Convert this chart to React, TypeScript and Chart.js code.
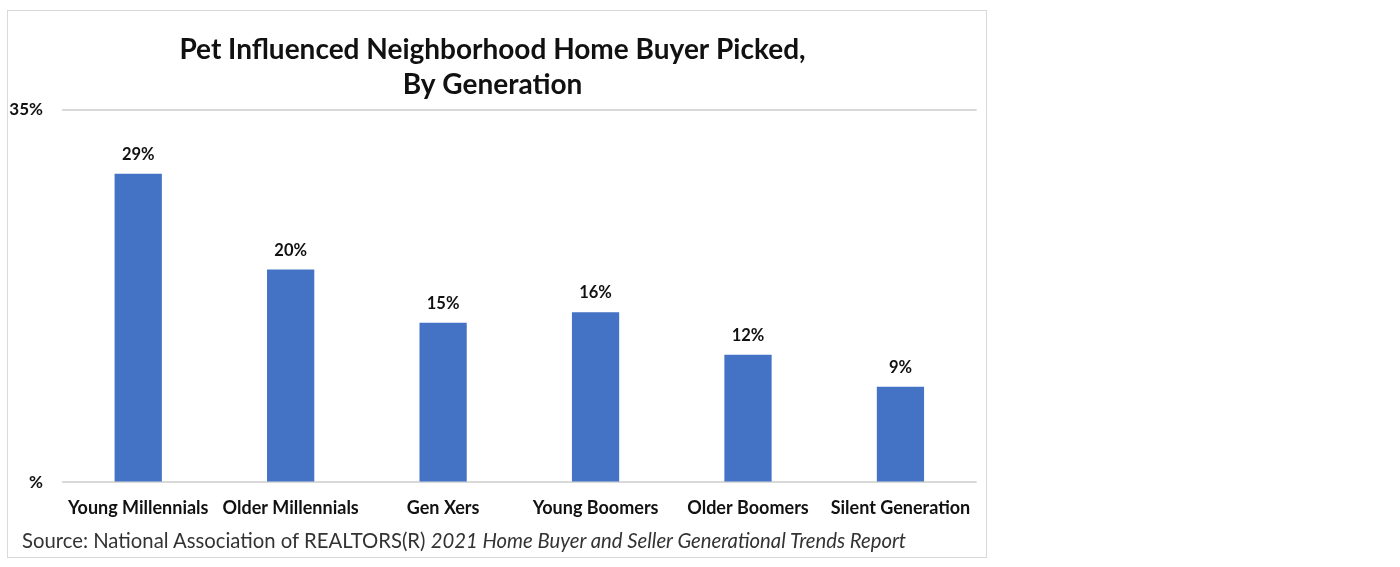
import React, { useEffect, useRef } from "react";
import { Chart, registerables } from "chart.js";

Chart.register(...registerables);

const categories = [
  "Young Millennials",
  "Older Millennials",
  "Gen Xers",
  "Young Boomers",
  "Older Boomers",
  "Silent Generation",
];
const values = [29, 20, 15, 16, 12, 9];
const yTickValues = [0, 35];
const yTickLabels = ["%", "35%"];
const titleLines = ["Pet Influenced Neighborhood Home Buyer Picked,", "By Generation"];
const sourcePlain = "Source: National Association of REALTORS(R) ";
const sourceItalic = "2021 Home Buyer and Seller Generational Trends Report";

const FONT = "Lato, 'Open Sans', 'DejaVu Sans', sans-serif";

const dataLabelPlugin = {
  id: "dataLabels",
  afterDatasetsDraw(chart: any) {
    const ctx = chart.ctx;
    const meta = chart.getDatasetMeta(0);
    ctx.save();
    ctx.font = `bold 16.5px ${FONT}`;
    ctx.fillStyle = "#111";
    ctx.textAlign = "center";
    ctx.textBaseline = "middle";
    meta.data.forEach((bar: any, i: number) => {
      ctx.fillText(values[i] + "%", bar.x, bar.y - 19);
    });
    ctx.restore();
  },
};

export default function App() {
  const ref = useRef<HTMLCanvasElement>(null);
  useEffect(() => {
    if (!ref.current) return;
    const chart = new Chart(ref.current, {
      type: "bar",
      data: {
        labels: categories,
        datasets: [
          {
            data: values,
            backgroundColor: "#4472C4",
            categoryPercentage: 1,
            barPercentage: 0.31,
          },
        ],
      },
      options: {
        animation: false,
        responsive: false,
        maintainAspectRatio: false,
        layout: { padding: { left: 0, right: 9, top: 3, bottom: 23 } },
        plugins: {
          legend: { display: false },
          tooltip: { enabled: false },
          title: {
            display: true,
            text: titleLines,
            color: "#111",
            font: { family: FONT, size: 28, weight: "bold", lineHeight: 1.25 },
            padding: { top: 18, bottom: 8 },
          },
        },
        scales: {
          x: {
            grid: { display: false, drawTicks: false },
            border: { display: false },
            ticks: {
              color: "#111",
              font: { family: FONT, size: 18, weight: "bold" },
              padding: 15,
              maxRotation: 0,
              autoSkip: false,
            },
          },
          y: {
            min: 0,
            max: 35,
            afterBuildTicks(scale: any) {
              scale.ticks = yTickValues.map((v) => ({ value: v }));
            },
            afterFit(scale: any) {
              scale.width = 54;
            },
            grid: { color: "#d9d9d9", lineWidth: 2, drawTicks: false },
            border: { display: false },
            ticks: {
              color: "#111",
              font: { family: FONT, size: 17, weight: "bold" },
              padding: 19,
              callback: (v: any) => yTickLabels[yTickValues.indexOf(Number(v))] ?? "",
            },
          },
        },
      },
      plugins: [dataLabelPlugin],
    });
    return () => chart.destroy();
  }, []);

  return (
    <div
      style={{
        position: "absolute",
        left: 7,
        top: 10,
        width: 980,
        height: 548,
        border: "1px solid #d9d9d9",
        boxSizing: "border-box",
        background: "#fff",
      }}
    >
      <canvas ref={ref} width={978} height={546} style={{ display: "block" }} />
      <div
        style={{
          position: "absolute",
          left: 14,
          top: 517,
          fontFamily: FONT,
          fontSize: 20.3,
          color: "#333",
          whiteSpace: "nowrap",
        }}
      >
        {sourcePlain}
        <i>{sourceItalic}</i>
      </div>
    </div>
  );
}
